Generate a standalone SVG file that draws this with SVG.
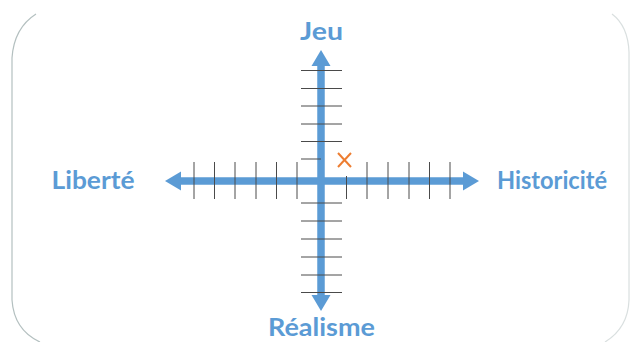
<svg xmlns="http://www.w3.org/2000/svg" width="635" height="342" viewBox="0 0 635 342">
  <style>
    .lbl { font-family: Lato, "Open Sans", "Liberation Sans", sans-serif; font-weight: bold; font-size: 24px; fill: #5b9bd5; text-anchor: middle; }
    .axis { stroke: #5b9bd5; stroke-width: 7.5; fill: none; }
    .head { fill: #5b9bd5; }
    .tick { stroke: #4a4a4a; stroke-width: 1; fill: none; }
    .mark { stroke: #ed7d31; stroke-width: 2; fill: none; }
    .frame { stroke: #b4c0c0; stroke-width: 1.2; fill: none; }
  </style>
  <rect width="635" height="342" fill="#ffffff"/>
  <g id="frame">
    <path class="frame" d="M 36 14 Q 14 28 12 58 L 12 300 Q 14 330 40 342"/>
    <path class="frame" stroke-opacity="0.5" d="M 612 14 Q 628 26 629 52 L 629 300 Q 628 328 605 342"/>
  </g>
  <g id="connectors">
    <g id="axis-vertical">
      <line class="axis" x1="321" y1="64" x2="321" y2="297"/>
      <polygon class="head" points="321,50 330.5,66 311.5,66"/>
      <polygon class="head" points="321,311 330.5,295 311.5,295"/>
    </g>
    <g id="axis-horizontal">
      <line class="axis" x1="179" y1="181" x2="465" y2="181"/>
      <polygon class="head" points="165,181 181,171.5 181,190.5"/>
      <polygon class="head" points="479,181 463,171.5 463,190.5"/>
    </g>
    <g id="ticks">
      <line class="tick" x1="194" y1="162" x2="194" y2="199"/>
      <line class="tick" x1="214.5" y1="162" x2="214.5" y2="199"/>
      <line class="tick" x1="235" y1="162" x2="235" y2="199"/>
      <line class="tick" x1="256" y1="162" x2="256" y2="199"/>
      <line class="tick" x1="276.5" y1="162" x2="276.5" y2="199"/>
      <line class="tick" x1="297" y1="162" x2="297" y2="199"/>
      <line class="tick" x1="346.5" y1="176" x2="346.5" y2="199"/>
      <line class="tick" x1="367" y1="162" x2="367" y2="199"/>
      <line class="tick" x1="388" y1="162" x2="388" y2="199"/>
      <line class="tick" x1="409" y1="162" x2="409" y2="199"/>
      <line class="tick" x1="429.5" y1="162" x2="429.5" y2="199"/>
      <line class="tick" x1="450" y1="162" x2="450" y2="199"/>
      <line class="tick" x1="301" y1="70.5" x2="342" y2="70.5"/>
      <line class="tick" x1="301" y1="88.5" x2="342" y2="88.5"/>
      <line class="tick" x1="301" y1="106" x2="342" y2="106"/>
      <line class="tick" x1="301" y1="124" x2="342" y2="124"/>
      <line class="tick" x1="301" y1="141.5" x2="342" y2="141.5"/>
      <line class="tick" x1="301" y1="159" x2="321" y2="159"/>
      <line class="tick" x1="301" y1="203" x2="342" y2="203"/>
      <line class="tick" x1="301" y1="221" x2="342" y2="221"/>
      <line class="tick" x1="301" y1="239" x2="342" y2="239"/>
      <line class="tick" x1="301" y1="257" x2="342" y2="257"/>
      <line class="tick" x1="301" y1="275" x2="342" y2="275"/>
      <line class="tick" x1="301" y1="292.5" x2="342" y2="292.5"/>
    </g>
  </g>
  <g id="marker-x">
    <line class="mark" x1="338" y1="153" x2="351" y2="167"/>
    <line class="mark" x1="351" y1="153" x2="338" y2="167"/>
  </g>
  <g id="node-jeu">
    <text class="lbl" x="321.5" y="40" textLength="43" lengthAdjust="spacingAndGlyphs">Jeu</text>
  </g>
  <g id="node-realisme">
    <text class="lbl" x="321.5" y="336" textLength="107" lengthAdjust="spacingAndGlyphs">Réalisme</text>
  </g>
  <g id="node-liberte">
    <text class="lbl" x="93" y="189" textLength="83" lengthAdjust="spacingAndGlyphs">Liberté</text>
  </g>
  <g id="node-historicite">
    <text class="lbl" x="552" y="189" textLength="110" lengthAdjust="spacingAndGlyphs">Historicité</text>
  </g>
</svg>
